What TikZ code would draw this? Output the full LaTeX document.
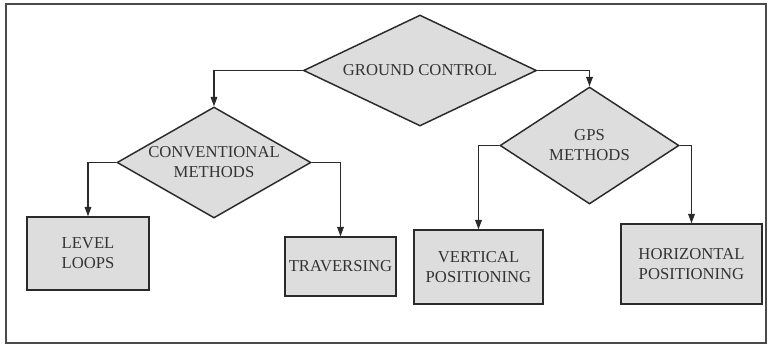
\documentclass[tikz,border=0pt]{standalone}
\usepackage{fontspec}
\setmainfont{Liberation Serif}
\usepackage{xcolor}
\usepackage{tikz}
\usetikzlibrary{shapes.geometric, arrows.meta}
\definecolor{gcfill}{HTML}{DDDDDD}
\definecolor{gcline}{HTML}{2A2A2A}
\definecolor{gctext}{HTML}{333333}

\tikzset{
    choice/.style={diamond, draw=gcline, line width=1.1pt, fill=gcfill, text=gctext, inner sep=0pt, align=center, font=\fontsize{12.5}{15}\selectfont},
    method/.style={rectangle, draw=gcline, line width=1.1pt, fill=gcfill, text=gctext, inner sep=0pt, align=center, font=\fontsize{12.5}{15}\selectfont},
    link/.style={-{Triangle[length=7pt, width=5pt]}, line width=0.8pt, gcline}
}

\begin{document}
\begin{tikzpicture}[x=0.75pt, y=-0.75pt]
    \useasboundingbox (0,0) rectangle (770,347);
    % Frame
    \draw[line width=1.6pt, gcline!85] (6,4) rectangle (766,343);

    % Ground control
    \node[choice, shape aspect=2.1, minimum width=174.75pt, minimum height=83.25pt] (ground) at (420,70.5) {GROUND CONTROL};

    % Methods
    \node[choice, shape aspect=1.75, minimum width=145.5pt, minimum height=83.25pt] (conv) at (214,162.5) {CONVENTIONAL\\METHODS};
    \node[choice, shape aspect=1.53, minimum width=134.25pt, minimum height=87.75pt] (gps) at (589.5,145.5) {GPS\\METHODS};

    % Leaves
    \node[method, minimum width=91.5pt, minimum height=54.75pt] (level) at (88,253.5) {LEVEL\\LOOPS};
    \node[method, minimum width=83.25pt, minimum height=44.25pt] (trav) at (340.5,266.5) {TRAVERSING};
    \node[method, minimum width=96.75pt, minimum height=55.5pt] (vert) at (478.5,267) {VERTICAL\\POSITIONING};
    \node[method, minimum width=105.75pt, minimum height=60pt] (horiz) at (691.5,264) {HORIZONTAL\\POSITIONING};

    % Arrows
    \draw[link] (ground.west) -| (conv.north);
    \draw[link] (ground.east) -| (gps.north);
    \draw[link] (conv.west) -| (level.north);
    \draw[link] (conv.east) -| (trav.north);
    \draw[link] (gps.west) -| (vert.north);
    \draw[link] (gps.east) -| (horiz.north);
\end{tikzpicture}
\end{document}
